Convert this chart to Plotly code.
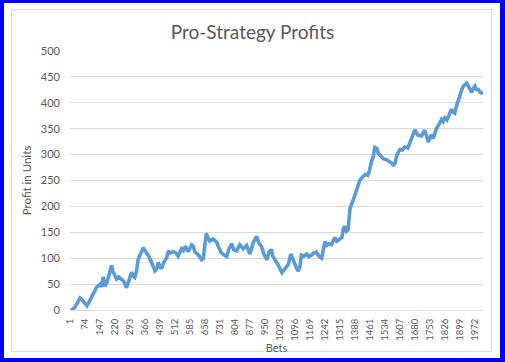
import plotly.graph_objects as go

# ---- data ----
bets = [1, 10, 24, 39, 49, 58, 68, 83, 97, 112, 130, 146, 154, 162, 170, 180, 190, 203, 209, 227,
        238, 252, 263, 276, 287, 300, 307, 316, 324, 332, 341, 357, 370, 381, 394, 404, 414, 423, 430, 438,
        446, 457, 471, 479, 489, 503, 516, 527, 543, 552, 560, 576, 592, 600, 608, 624, 641, 649, 657, 664,
        671, 681, 697, 714, 725, 738, 750, 763, 774, 787, 798, 811, 827, 843, 860, 876, 892, 909, 919, 933,
        944, 958, 969, 981, 987, 998, 1012, 1032, 1046, 1063, 1075, 1088, 1100, 1110, 1119, 1127, 1139, 1152, 1163, 1176,
        1187, 1200, 1211, 1225, 1233, 1241, 1251, 1260, 1273, 1289, 1299, 1314, 1324, 1330, 1338, 1346, 1354, 1363, 1370, 1379,
        1387, 1395, 1401, 1411, 1427, 1440, 1450, 1457, 1468, 1476, 1484, 1494, 1500, 1513, 1525, 1541, 1552, 1565, 1574, 1582,
        1590, 1596, 1606, 1618, 1630, 1645, 1663, 1671, 1679, 1686, 1695, 1711, 1720, 1727, 1737, 1744, 1752, 1760, 1769, 1776,
        1783, 1792, 1800, 1809, 1817, 1825, 1835, 1844, 1857, 1866, 1873, 1881, 1889, 1898, 1906, 1914, 1922, 1931, 1937, 1944,
        1955, 1963, 1971, 1978, 1987, 1995, 2003, 2010]
profit = [0, 0, 5, 14, 23, 20, 16, 8, 18, 30, 44, 49, 45, 64, 46, 52, 66, 86, 75, 60,
          64, 60, 55, 43, 55, 73, 66, 63, 75, 97, 106, 120, 112, 106, 95, 84, 76, 80, 92, 84,
          80, 92, 101, 114, 110, 113, 110, 104, 118, 115, 123, 113, 126, 124, 112, 107, 97, 99, 130, 148,
          140, 133, 137, 131, 120, 110, 106, 103, 118, 128, 116, 114, 126, 118, 125, 108, 130, 142, 130, 122,
          108, 97, 112, 117, 104, 98, 88, 72, 80, 88, 108, 93, 84, 75, 82, 106, 104, 108, 103, 106,
          110, 112, 104, 100, 118, 132, 125, 128, 126, 140, 133, 137, 140, 156, 162, 152, 155, 196, 202, 212,
          222, 233, 238, 250, 258, 262, 260, 268, 287, 295, 314, 312, 303, 297, 292, 290, 288, 284, 280, 282,
          298, 302, 310, 309, 315, 313, 330, 338, 348, 342, 337, 336, 342, 347, 335, 324, 332, 338, 331, 340,
          350, 355, 362, 368, 364, 371, 367, 376, 387, 382, 380, 393, 405, 413, 424, 432, 434, 438, 434, 428,
          420, 428, 432, 426, 426, 421, 419, 422]
tick_labels = ["1", "74", "147", "220", "293", "366", "439", "512", "585", "658", "731", "804", "877", "950",
               "1023", "1096", "1169", "1242", "1315", "1388", "1461", "1534", "1607", "1680", "1753", "1826",
               "1899", "1972"]
y_ticks = [0, 50, 100, 150, 200, 250, 300, 350, 400, 450, 500]
n_bets = 2010

# ---- layout geometry (pixels) ----
W, H = 505, 362
L, R, T, B = 70, 483, 51, 310


def px_x(p):
    return (p - L) / (R - L)


def px_y(p):
    return (B - p) / (B - T)


FONT = "Lato, 'Liberation Sans', sans-serif"
GREY = "#595959"

fig = go.Figure()
fig.add_trace(go.Scatter(
    x=bets, y=profit, mode="lines",
    line=dict(color="#5B9BD5", width=3.6),
    hoverinfo="skip", showlegend=False,
))

fig.update_layout(
    width=W, height=H,
    margin=dict(l=L, r=W - R, t=T, b=H - B, pad=0),
    paper_bgcolor="#0000FF",
    plot_bgcolor="white",
    font=dict(family=FONT, color=GREY),
    title=dict(text="Pro-Strategy Profits", x=0.5, xanchor="center",
               y=1 - 32 / H, yanchor="middle", yref="container",
               font=dict(size=19, color=GREY, family=FONT)),
    xaxis=dict(
        range=[0.5, n_bets + 0.5],
        tickmode="array",
        tickvals=[int(t) for t in tick_labels],
        ticktext=tick_labels,
        tickangle=-90,
        tickfont=dict(size=9.5, color=GREY),
        showgrid=False, zeroline=False,
        showline=True, linecolor="#D9D9D9", linewidth=1,
        ticks="", ticklabelstandoff=4,
        title=dict(text="Bets", font=dict(size=11, color=GREY), standoff=0),
        automargin=False, fixedrange=True,
    ),
    yaxis=dict(
        range=[0, 500],
        tickmode="array", tickvals=y_ticks,
        tickfont=dict(size=11, color=GREY),
        showgrid=True, gridcolor="#D9D9D9", gridwidth=1,
        zeroline=False, showline=False, ticks="",
        ticklabelstandoff=9,
        title=dict(text="Profit in Units", font=dict(size=11.5, color=GREY), standoff=6),
        automargin=False, fixedrange=True,
    ),
    shapes=[
        dict(type="rect", xref="paper", yref="paper", layer="below",
             x0=px_x(4), x1=px_x(500), y0=px_y(358), y1=px_y(3),
             fillcolor="white", line=dict(width=0)),
        dict(type="rect", xref="paper", yref="paper", layer="below",
             x0=px_x(11.5), x1=px_x(491.5), y0=px_y(351.5), y1=px_y(9.5),
             fillcolor="rgba(0,0,0,0)", line=dict(color="#D9D9D9", width=1)),
    ],
)

fig.write_html("out.html", config={"displayModeBar": False},
               post_script="document.body.style.margin='0';document.body.style.overflow='hidden';")
